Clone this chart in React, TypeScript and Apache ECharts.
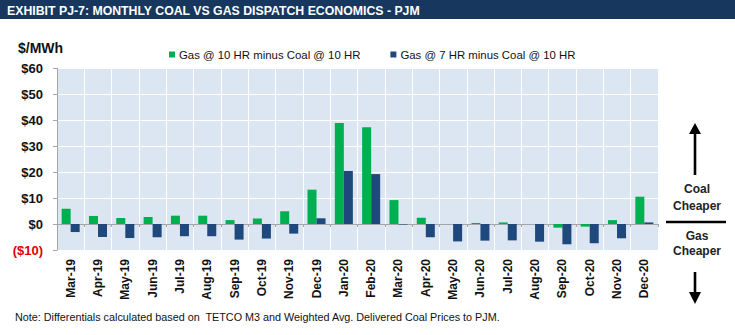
import React, { useEffect, useRef } from "react";
import * as echarts from "echarts";

const months = [
  "Mar-19", "Apr-19", "May-19", "Jun-19", "Jul-19", "Aug-19", "Sep-19", "Oct-19",
  "Nov-19", "Dec-19", "Jan-20", "Feb-20", "Mar-20", "Apr-20", "May-20", "Jun-20",
  "Jul-20", "Aug-20", "Sep-20", "Oct-20", "Nov-20", "Dec-20",
];
const gas10 = [5.9, 3.1, 2.3, 2.7, 3.2, 3.2, 1.5, 2.1, 4.9, 13.2, 38.8, 37.2, 9.2, 2.4, 0.0, 0.4, 0.6, 0.0, -1.4, -1.0, 1.5, 10.5];
const gas7 = [-3.1, -5.0, -5.4, -5.1, -4.7, -4.7, -6.0, -5.6, -3.7, 2.2, 20.4, 19.2, -0.2, -5.1, -6.7, -6.4, -6.3, -6.8, -7.8, -7.4, -5.5, 0.6];
const seriesNames = ["Gas @ 10 HR minus Coal @ 10 HR", "Gas @ 7 HR minus Coal @ 10 HR"];
const titleText = "EXHIBIT PJ-7: MONTHLY COAL VS GAS DISPATCH ECONOMICS - PJM";
const noteText = "Note: Differentials calculated based on  TETCO M3 and Weighted Avg. Delivered Coal Prices to PJM.";
const unitText = "$/MWh";

const FONT = "'Liberation Sans', Arial, sans-serif";

export default function App() {
  const ref = useRef<HTMLDivElement>(null);
  useEffect(() => {
    document.body.style.margin = "0";
    const chart = echarts.init(ref.current!, null, { renderer: "svg" });
    const option: any = {
      animation: false,
      backgroundColor: "#ffffff",
      textStyle: { fontFamily: FONT },
      grid: {
        left: 57, top: 68, width: 601, height: 182,
        show: true, backgroundColor: "#dce6f2", borderWidth: 0,
      },
      legend: {
        left: 164, top: 44, itemWidth: 6, itemHeight: 6, itemGap: 30,
        icon: "rect",
        textStyle: { fontFamily: FONT, fontSize: 11.4, color: "#111", padding: [0, 0, 0, -1] },
        data: seriesNames,
      },
      xAxis: [
        {
          type: "category", data: months, position: "bottom",
          axisLine: { show: false, onZero: false },
          axisTick: { show: false },
          axisLabel: {
            interval: 0, rotate: 90, margin: 9,
            fontFamily: FONT, fontSize: 12, fontWeight: "bold", color: "#111",
          },
          splitLine: { show: true, interval: 0, lineStyle: { color: "#ffffff", width: 1 } },
        },
        {
          type: "category", data: months, position: "bottom",
          axisLine: { show: true, onZero: true, onZeroAxisIndex: 0, lineStyle: { color: "#a6a6a6", width: 1 } },
          axisTick: { show: true, interval: 0, length: 3, lineStyle: { color: "#a6a6a6" } },
          axisLabel: { show: false },
          splitLine: { show: false },
        },
      ],
      yAxis: {
        type: "value", min: -10, max: 60, interval: 10,
        axisLine: { show: true, lineStyle: { color: "#a6a6a6" } },
        axisTick: { show: true, length: 4, lineStyle: { color: "#a6a6a6" } },
        axisLabel: {
          margin: 14, fontFamily: FONT, fontSize: 13, fontWeight: "bold",
          formatter: (v: number) => (v < 0 ? "($" + Math.abs(v) + ")" : "$" + v),
          color: (v: any) => (Number(v) < 0 ? "#e00000" : "#111"),
        },
        splitLine: { show: true, lineStyle: { color: "#ffffff", width: 1 } },
      },
      series: [
        {
          name: seriesNames[0], type: "bar", data: gas10, xAxisIndex: 0,
          itemStyle: { color: "#00b050" }, barGap: "0%", barCategoryGap: "34%",
        },
        {
          name: seriesNames[1], type: "bar", data: gas7, xAxisIndex: 0,
          itemStyle: { color: "#1f497d" }, barGap: "0%", barCategoryGap: "34%",
        },
      ],
      graphic: [
        { type: "rect", left: 0, top: 0, shape: { width: 735, height: 19 }, style: { fill: "#17375e" }, silent: true },
        {
          type: "text", x: 7, y: 11,
          style: { text: titleText, fill: "#ffffff", font: "bold 12.3px " + FONT, verticalAlign: "middle" },
        },
        {
          type: "text", x: 18, y: 48,
          style: { text: unitText, fill: "#111", font: "bold 14px " + FONT, verticalAlign: "middle" },
        },
        {
          type: "text", x: 15, y: 317,
          style: { text: noteText, fill: "#111", font: "10.8px " + FONT, verticalAlign: "middle" },
        },
        // up arrow
        { type: "line", shape: { x1: 695, y1: 175, x2: 695, y2: 131 }, style: { stroke: "#000", lineWidth: 2.6 } },
        { type: "polygon", shape: { points: [[695, 123], [689, 134], [701, 134]] }, style: { fill: "#000" } },
        // down arrow
        { type: "line", shape: { x1: 695, y1: 272, x2: 695, y2: 295 }, style: { stroke: "#000", lineWidth: 2.6 } },
        { type: "polygon", shape: { points: [[695, 304], [689, 292], [701, 292]] }, style: { fill: "#000" } },
        // divider
        { type: "line", shape: { x1: 666, y1: 222, x2: 726, y2: 222 }, style: { stroke: "#000", lineWidth: 2.5 } },
        {
          type: "text", x: 697, y: 189,
          style: { text: "Coal", fill: "#222", font: "bold 12px " + FONT, align: "center", verticalAlign: "middle" },
        },
        {
          type: "text", x: 697, y: 206,
          style: { text: "Cheaper", fill: "#222", font: "bold 12px " + FONT, align: "center", verticalAlign: "middle" },
        },
        {
          type: "text", x: 697, y: 236,
          style: { text: "Gas", fill: "#222", font: "bold 12px " + FONT, align: "center", verticalAlign: "middle" },
        },
        {
          type: "text", x: 697, y: 251,
          style: { text: "Cheaper", fill: "#222", font: "bold 12px " + FONT, align: "center", verticalAlign: "middle" },
        },
      ],
    };
    chart.setOption(option);
    return () => chart.dispose();
  }, []);
  return <div ref={ref} style={{ width: 735, height: 335 }} />;
}
